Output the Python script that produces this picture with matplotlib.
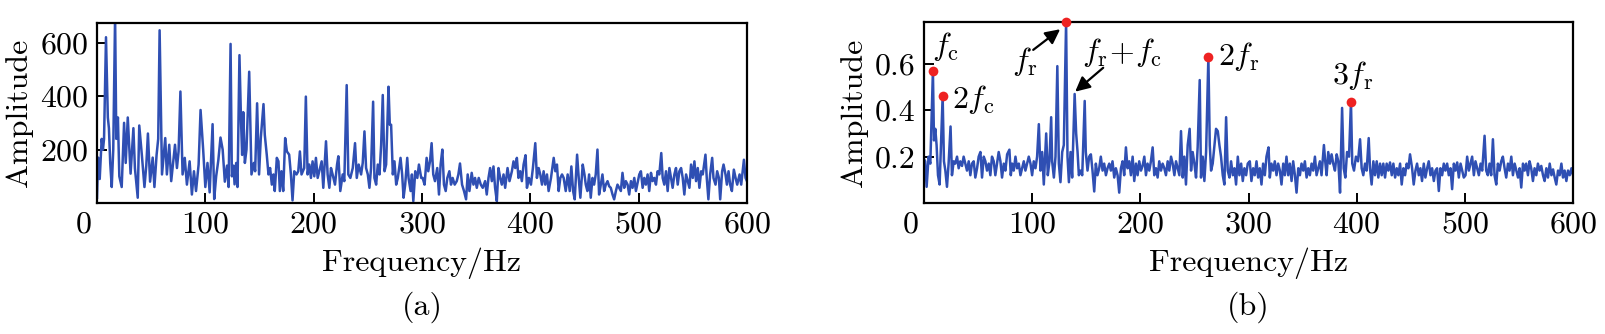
import numpy as np
import matplotlib
matplotlib.use('Agg')
import matplotlib.pyplot as plt
from matplotlib.transforms import ScaledTranslation

# LaTeX-like look
plt.rcParams['font.family'] = 'serif'
plt.rcParams['font.serif'] = ['cmr10', 'DejaVu Serif']
plt.rcParams['mathtext.fontset'] = 'cm'
plt.rcParams['axes.unicode_minus'] = False
plt.rcParams['axes.formatter.use_mathtext'] = True

LINE_BLUE = '#2f4fb3'
FS = 23

# (a) raw spectrum
freq_a = [0, 1, 2.5, 4.3, 5.5, 6.5, 8.3, 10, 11, 12.2, 13.6, 15, 16.7, 17.8, 19.3, 20.6, 22.8,
          25, 26.5, 28.4, 31, 33.6, 35, 37.6, 39, 41.4, 43.8, 45.5, 47, 49, 51.4, 53, 55, 56.5,
          57.8, 60, 63, 64.5, 66.7, 68.5, 70.7, 72, 73.8, 75.3, 77, 79, 81, 83, 85.5, 87.6, 89.5,
          91.4, 93.8, 95.6, 98, 100, 102, 104, 106.7, 108.2, 110, 112, 114, 116, 118, 120, 121.5,
          123.3, 124.5, 126, 127, 128.5, 129.7, 131.5, 133, 134, 135, 136.5, 138, 140.5, 142.6,
          144.8, 146, 147.8, 149.6, 151.2, 153.7, 154.9, 156.7, 158.3, 159.8, 161.4, 162.9, 164.1,
          166, 167.5, 168.8, 170.3, 171.9, 173.7, 175.3, 177.4, 179, 180.5, 182.1, 184.2, 185.8,
          187.3, 188.8, 191.3, 192.8, 194.4, 196, 197.5, 199, 200.6, 202.1, 203.7, 205.2, 207.4,
          208.9, 211.4, 212.9, 214.5, 216, 217.5, 219.7, 221.6, 222.8, 224.6, 226.8, 228.3, 230.5,
          232, 233.9, 236.1, 238.2, 239.8, 241.6, 243.8, 245.3, 246.9, 248.4, 250, 251.5, 253,
          254.9, 256.1, 257.7, 259.2, 260.8, 262.3, 263.8, 265.4, 266.9, 269.1, 270.3, 271.5,
          273.1, 274.6, 276.2, 277.7, 280.2, 281.7, 283, 284.5, 286.4, 287.6, 289.5, 290.7, 292,
          293.8, 295.7, 297.2, 299.3, 300.6, 302.4, 304.3, 305.8, 307.4, 308.9, 310.4, 312, 314.1,
          315.7, 317.2, 318.8, 320.3, 321.9, 323.4, 325.3, 326.8, 328.3, 330.2, 332.1, 333.6,
          335.1, 337, 338.8, 340.7, 342.2, 343.8, 345.9, 347.5, 349, 350.6, 352.4, 354.3, 356.1,
          358.3, 359.8, 361.4, 362.9, 364.5, 366, 367.5, 369.1, 370.6, 372.2, 373.7, 375.3, 376.8,
          379, 380.8, 383, 384.5, 386.1, 387.6, 389.1, 390.7, 392.2, 393.8, 395.6, 396.9, 398.7,
          400.6, 402.4, 404.6, 406.1, 407.7, 409.2, 410.8, 412.3, 413.8, 415.4, 416.9, 419.1,
          421.6, 423.1, 424.6, 426.2, 427.7, 429.3, 430.8, 432.7, 434.5, 436.4, 437.9, 439.5, 441,
          443.2, 444.7, 446.2, 448.4, 450, 451.2, 452.7, 454.3, 455.8, 457.4, 458.9, 460.4, 462,
          463.5, 465.1, 466.6, 468.2, 469.7, 471.3, 472.8, 474.3, 475.9, 477.4, 479, 480.5, 482,
          483.6, 485.1, 486.7, 488.2, 489.8, 491.3, 492.9, 494.4, 496, 497.5, 499, 500.6, 502.1,
          503.7, 505.2, 506.7, 508.3, 509.8, 511.4, 512.9, 514.5, 516, 517.5, 519.1, 520.9, 522.2,
          523.7, 525.3, 526.8, 528.4, 529.9, 531.4, 533, 534.5, 536.1, 537.6, 539.2, 540.7, 542.2,
          543.8, 545.3, 546.9, 548.4, 550, 551.5, 553, 554.6, 556.1, 557.7, 559.2, 561.7, 562.9,
          564.4, 566, 567.9, 569.1, 571, 572.5, 574.1, 575.3, 577.1, 578.4, 580.2, 581.5, 583,
          584.5, 586.1, 587.9, 589.5, 591, 593.2, 594.7, 597.2, 598.7, 600]
amp_a = [20, 170, 90, 240, 200, 240, 620, 320, 280, 150, 60, 200, 700, 240, 320, 100, 60,
         300, 150, 320, 110, 280, 130, 20, 290, 180, 60, 140, 260, 80, 170, 60, 180, 240,
         646, 107, 243, 107, 218, 82, 169, 218, 131, 193, 417, 107, 169, 69, 156, 32, 119,
         45, 144, 348, 200, 60, 150, 40, 295, 15, 100, 160, 245, 200, 80, 140, 60,
         595, 100, 140, 70, 150, 60, 553, 300, 180, 340, 150, 200, 491, 107,
         150, 119, 373, 107, 243, 370, 255, 181, 107, 131, 69, 107, 45,
         169, 156, 45, 119, 45, 243, 193, 181, 107, 10, 119, 107, 119,
         193, 107, 131, 398, 107, 144, 94, 156, 100, 169, 94, 119, 156,
         57, 231, 107, 57, 131, 107, 69, 144, 175, 45, 107, 82, 441,
         107, 94, 131, 224, 94, 144, 107, 150, 268, 131, 107, 57, 131,
         379, 94, 69, 144, 107, 218, 404, 119, 144, 435, 293, 293,
         107, 156, 69, 94, 169, 107, 20, 69, 169, 94, 45, 107, 7,
         119, 94, 144, 94, 94, 69, 169, 119, 156, 224, 107, 82, 131,
         32, 144, 200, 69, 45, 94, 119, 69, 94, 69, 82, 107,
         148, 69, 45, 14, 107, 45, 113, 69, 94, 57, 94, 69, 57,
         82, 32, 94, 131, 82, 137, 57, 7, 131, 94, 69, 107, 57,
         131, 82, 119, 156, 131, 169, 94, 119, 82, 144, 179, 57, 94,
         69, 131, 224, 94, 131, 107, 69, 119, 69, 107, 45, 94,
         169, 119, 144, 45, 94, 107, 94, 45, 107, 45, 137, 45, 14,
         181, 94, 20, 144, 107, 69, 45, 107, 20, 94, 69, 107, 200,
         32, 69, 107, 45, 69, 82, 63, 57, 32, 14, 45, 69, 57,
         45, 113, 57, 82, 69, 32, 82, 57, 94, 45, 76, 107, 119,
         57, 94, 69, 107, 45, 113, 82, 94, 69, 119, 107, 187, 94,
         69, 119, 45, 131, 94, 57, 107, 131, 69, 119, 131, 94, 32,
         107, 82, 57, 144, 94, 156, 82, 131, 57, 119, 107, 181, 94,
         14, 107, 169, 94, 69, 119, 94, 14, 119, 144, 107, 69, 119,
         69, 45, 125, 94, 69, 107, 69, 162, 94, 82]

# (b) processed spectrum
freq_b = [0, 1.2, 2.5, 4.3, 5.9, 8.3, 9.3, 10.5, 11.7, 13, 14.5, 16, 17.3, 18.5, 19.8, 21.3,
          22.8, 24.6, 25.9, 27.5, 29, 30.6, 32.1, 33.6, 35.2, 36.7, 38.3, 39.8, 41.4, 42.9, 44.4,
          46, 47.5, 49.1, 50.6, 52.2, 53.7, 55.3, 56.8, 58.3, 59.9, 61.4, 62.9, 64.5, 66, 67.6,
          69.1, 70.7, 72.2, 73.8, 75.3, 76.9, 79, 80.3, 81.5, 83, 84.6, 86.1, 87.7, 89.2, 90.7,
          92.3, 93.8, 95.4, 96.9, 98.5, 100, 101.5, 103.1, 104.6, 106.2, 107.7, 109.3, 110.8, 113,
          114.5, 116, 117.6, 118.5, 120.1, 121.6, 123.3, 124.7, 126.2, 127.8, 129.3, 131.4, 132.7,
          134, 135.5, 137, 139.3, 140.7, 142, 143.2, 144.7, 146.3, 148.6, 149.6, 151.2, 152.7,
          154.3, 155.8, 157.4, 158.9, 160.4, 162, 163.5, 165.1, 166.6, 168.2, 169.7, 171.3, 172.8,
          174.3, 175.9, 177.4, 179, 180.5, 182.1, 183.6, 185.1, 186.7, 188.2, 189.8, 191.3, 192.9,
          194.4, 196, 197.5, 199, 200.6, 202.1, 203.7, 205.2, 206.7, 208.3, 209.8, 211.4, 212.9,
          214.5, 216, 217.5, 219.1, 220.6, 222.2, 223.7, 225.3, 226.8, 228.4, 229.9, 231.5, 233,
          234.5, 236.1, 237.6, 239.2, 240.7, 242.2, 243.8, 245.6, 246.9, 248.4, 250, 251.5, 253,
          254.9, 256.1, 257.7, 259.2, 260.8, 262.9, 264.2, 265.4, 266.9, 268.5, 270, 271.6, 273.1,
          274.6, 276.2, 277.7, 279.3, 280.8, 282.4, 283.9, 285.5, 287, 288.5, 290.1, 291.6, 293.2,
          294.7, 296.2, 297.8, 299.3, 301.2, 302.7, 304.3, 305.8, 307.4, 308.9, 310.4, 312, 313.5,
          315.1, 316.6, 318.5, 319.7, 321.2, 322.8, 324.3, 325.9, 327.4, 329, 330.5, 332.1, 333.6,
          335.1, 336.7, 338.2, 339.8, 341.3, 342.9, 344.4, 346, 347.5, 349, 350.6, 352.1, 353.7,
          355.2, 356.7, 358.3, 359.8, 361.4, 362.9, 364.5, 366, 367.5, 369.7, 370.9, 372.2, 373.7,
          375.3, 376.8, 378.3, 379.9, 381.5, 383, 384.6, 386.5, 388, 389.5, 391.1, 392.9, 394.7,
          395.9, 397.5, 399.3, 401.2, 403.1, 404.6, 406.1, 407.7, 409.2, 411.1, 412.3, 413.8,
          415.4, 416.9, 418.5, 420, 421.6, 423.1, 424.6, 426.2, 427.7, 429.3, 430.8, 432.4, 433.9,
          435.5, 437, 438.5, 440.1, 441.6, 443.2, 444.7, 446.2, 447.8, 449.3, 451.2, 452.7, 454.3,
          455.8, 457.4, 458.9, 460.4, 462, 463.5, 465.1, 466.6, 468.2, 469.7, 471.3, 472.8, 474.3,
          475.9, 477.4, 479, 480.5, 482, 483.6, 485.1, 486.7, 488.2, 489.8, 491.3, 492.9, 494.4,
          496, 497.5, 499, 500.6, 502.1, 503.7, 505.2, 506.7, 508.3, 509.8, 511.4, 512.9, 514.5,
          516, 518.2, 519.7, 521.2, 522.8, 524.3, 525.9, 527.4, 529, 530.5, 532.1, 533.6, 535.1,
          536.7, 538.2, 539.8, 541.3, 542.9, 544.4, 546, 547.5, 549.1, 550.6, 552.1, 553.7, 555.2,
          556.7, 558.3, 559.8, 561.3, 562.9, 564.4, 566, 567.5, 569.1, 570.6, 572.2, 573.7, 575.3,
          576.8, 578.4, 580, 581.5, 583, 584.5, 586.1, 587.6, 589.2, 590.7, 592.2, 593.8, 595.3,
          596.9, 598.5, 600]
amp_b = [0.19, 0.18, 0.07, 0.2, 0.17, 0.57, 0.27, 0.32, 0.25, 0.12, 0.08, 0.28, 0.46, 0.18, 0.14, 0.07,
         0.17, 0.33, 0.12, 0.18, 0.17, 0.2, 0.15, 0.18, 0.16, 0.2, 0.17, 0.14, 0.18, 0.12, 0.17,
         0.18, 0.11, 0.15, 0.2, 0.22, 0.11, 0.2, 0.18, 0.14, 0.17, 0.12, 0.2, 0.18, 0.12, 0.17,
         0.22, 0.18, 0.11, 0.17, 0.14, 0.21, 0.23, 0.12, 0.17, 0.14, 0.2, 0.15, 0.17, 0.12, 0.15,
         0.18, 0.14, 0.17, 0.2, 0.17, 0.12, 0.18, 0.15, 0.2, 0.34, 0.14, 0.22, 0.08, 0.3,
         0.12, 0.18, 0.37, 0.18, 0.11, 0.2, 0.59, 0.17, 0.09, 0.22, 0.25, 0.78, 0.2,
         0.09, 0.22, 0.11, 0.47, 0.3, 0.22, 0.12, 0.14, 0.12, 0.44, 0.22, 0.14, 0.2,
         0.21, 0.14, 0.05, 0.17, 0.12, 0.15, 0.2, 0.14, 0.17, 0.12, 0.15, 0.17, 0.14,
         0.18, 0.11, 0.15, 0.12, 0.045, 0.15, 0.18, 0.12, 0.24, 0.15, 0.18, 0.12, 0.2,
         0.095, 0.17, 0.12, 0.18, 0.14, 0.16, 0.2, 0.12, 0.17, 0.14, 0.18, 0.24, 0.12,
         0.15, 0.11, 0.18, 0.14, 0.17, 0.15, 0.12, 0.18, 0.14, 0.2, 0.17, 0.12, 0.18,
         0.15, 0.12, 0.31, 0.11, 0.2, 0.08, 0.25, 0.32, 0.14, 0.22, 0.17, 0.11, 0.24,
         0.53, 0.11, 0.2, 0.095, 0.22, 0.63, 0.25, 0.14, 0.17, 0.25, 0.32, 0.31, 0.25,
         0.2, 0.12, 0.08, 0.37, 0.14, 0.11, 0.18, 0.12, 0.15, 0.08, 0.2, 0.12, 0.17,
         0.095, 0.15, 0.12, 0.17, 0.18, 0.095, 0.15, 0.12, 0.18, 0.11, 0.15, 0.08, 0.17,
         0.12, 0.2, 0.24, 0.11, 0.17, 0.14, 0.18, 0.12, 0.17, 0.14, 0.08, 0.17, 0.12,
         0.2, 0.12, 0.17, 0.095, 0.18, 0.12, 0.045, 0.15, 0.12, 0.17, 0.14, 0.18, 0.11,
         0.15, 0.12, 0.17, 0.14, 0.2, 0.12, 0.15, 0.18, 0.12, 0.25, 0.18, 0.12, 0.22,
         0.17, 0.21, 0.17, 0.14, 0.21, 0.18, 0.045, 0.41, 0.15, 0.11, 0.22, 0.2, 0.436,
         0.17, 0.14, 0.2, 0.18, 0.275, 0.15, 0.12, 0.17, 0.14, 0.28, 0.15, 0.08,
         0.18, 0.12, 0.18, 0.11, 0.17, 0.12, 0.17, 0.11, 0.17, 0.14, 0.175, 0.12, 0.17,
         0.11, 0.15, 0.12, 0.17, 0.08, 0.15, 0.12, 0.17, 0.15, 0.21, 0.15, 0.08, 0.14,
         0.17, 0.12, 0.15, 0.095, 0.17, 0.11, 0.15, 0.18, 0.12, 0.15, 0.095, 0.14, 0.15,
         0.052, 0.15, 0.12, 0.17, 0.14, 0.17, 0.12, 0.15, 0.06, 0.17, 0.14, 0.175, 0.11,
         0.17, 0.14, 0.11, 0.12, 0.2, 0.14, 0.17, 0.2, 0.12, 0.18, 0.15, 0.12, 0.17,
         0.14, 0.29, 0.14, 0.12, 0.17, 0.12, 0.275, 0.12, 0.08, 0.17, 0.14, 0.18, 0.2,
         0.15, 0.11, 0.17, 0.14, 0.2, 0.12, 0.17, 0.14, 0.11, 0.15, 0.067, 0.17, 0.14,
         0.17, 0.12, 0.18, 0.15, 0.095, 0.15, 0.12, 0.17, 0.14, 0.16, 0.12, 0.095, 0.15,
         0.11, 0.17, 0.12, 0.145, 0.11, 0.08, 0.14, 0.12, 0.17, 0.11, 0.14, 0.095, 0.14,
         0.12, 0.15, 0.12]

# characteristic frequencies marked on (b)
mark_freqs = [8.3, 17.3, 131.4, 262.9, 394.7]

x_ticks = [0, 100, 200, 300, 400, 500, 600]


def style_axis(ax):
    for s in ax.spines.values():
        s.set_linewidth(1.6)
    ax.tick_params(direction='in', length=7, width=1.4, labelsize=FS, pad=6,
                   top=False, right=False)
    ax.set_xlim(0, 600)
    ax.set_xticks(x_ticks)
    ax.set_xlabel('Frequency/Hz', fontsize=FS, labelpad=6)
    ax.set_ylabel('Amplitude', fontsize=FS, labelpad=5)
    # nudge the "0" label to the left
    offset = ScaledTranslation(-14 / 100, 0, ax.figure.dpi_scale_trans)
    lbl = ax.get_xticklabels()[0]
    lbl.set_transform(lbl.get_transform() + offset)


fig = plt.figure(figsize=(16.06, 3.34), dpi=100)
ax_a = fig.add_axes([0.0604, 0.392, 0.4047, 0.539])
ax_b = fig.add_axes([0.5753, 0.392, 0.4042, 0.542])

ax_a.plot(freq_a, amp_a, color=LINE_BLUE, lw=1.8)
ax_a.set_ylim(0, 673)
ax_a.set_yticks([200, 400, 600])
style_axis(ax_a)

ax_b.plot(freq_b, amp_b, color=LINE_BLUE, lw=1.8)
ax_b.set_ylim(0, 0.78)
ax_b.set_yticks([0.2, 0.4, 0.6])
ax_b.set_yticklabels(['0.2', '0.4', '0.6'])
style_axis(ax_b)

fb = np.array(freq_b)
ab = np.array(amp_b)
idx = [int(np.argmin(np.abs(fb - f))) for f in mark_freqs]
ax_b.plot(fb[idx], ab[idx], 'o', color='#ee2222', ms=7, mec='none',
          clip_on=False, zorder=5)

ax_b.text(7, 0.675, r'$f_\mathrm{c}$', fontsize=FS, ha='left', va='center')
ax_b.text(25.5, 0.445, r'$2f_\mathrm{c}$', fontsize=FS, ha='left', va='center')
ax_b.text(81, 0.61, r'$f_\mathrm{r}$', fontsize=FS, ha='left', va='center')
ax_b.text(146, 0.65, r'$f_\mathrm{r}\!+\!f_\mathrm{c}$', fontsize=FS, ha='left', va='center')
ax_b.text(272, 0.63, r'$2f_\mathrm{r}$', fontsize=FS, ha='left', va='center')
ax_b.text(377, 0.55, r'$3f_\mathrm{r}$', fontsize=FS, ha='left', va='center')

arrow = dict(arrowstyle='-|>', color='black', lw=1.6, mutation_scale=22,
             shrinkA=0, shrinkB=0)
ax_b.annotate('', xy=(125.9, 0.749), xytext=(101, 0.66), arrowprops=arrow)
ax_b.annotate('', xy=(139.8, 0.48), xytext=(165.7, 0.583), arrowprops=arrow)

fig.text(0.2628, 0.081, '(a)', fontsize=FS, ha='center', va='center')
fig.text(0.7774, 0.081, '(b)', fontsize=FS, ha='center', va='center')

fig.savefig('out.png', dpi=100)
